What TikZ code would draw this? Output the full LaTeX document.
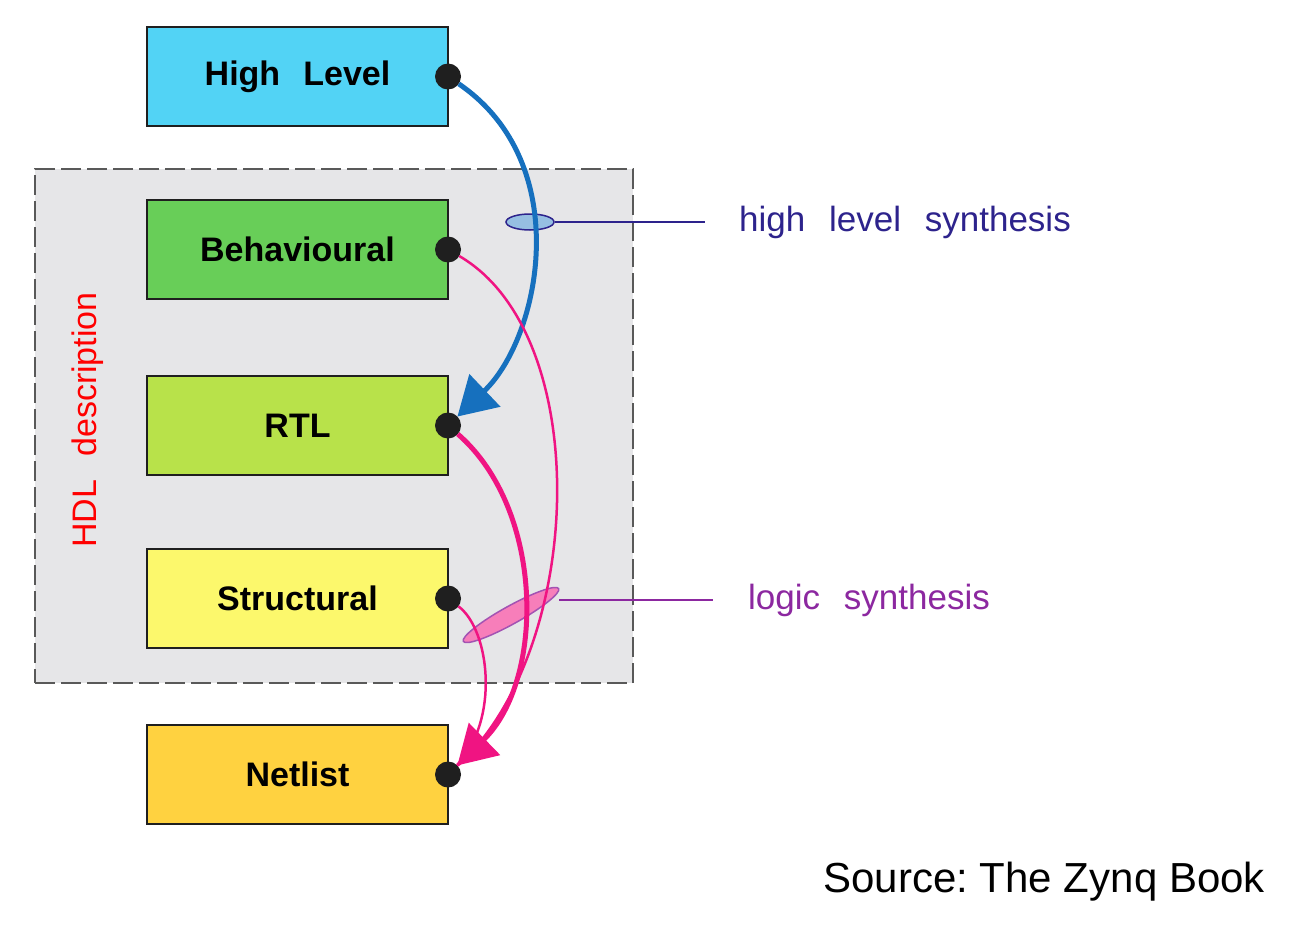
\documentclass[tikz,border=0pt]{standalone}
\usepackage{fontspec}
\setmainfont{Liberation Sans}
\usepackage{xcolor}
\usepackage{tikz}
\usetikzlibrary{arrows.meta,positioning,shapes.geometric}
\definecolor{hlcyan}{RGB}{82,211,245}
\definecolor{behgreen}{RGB}{104,206,88}
\definecolor{rtlgreen}{RGB}{184,226,74}
\definecolor{structyellow}{RGB}{252,248,108}
\definecolor{netorange}{RGB}{255,210,64}
\definecolor{hdlgray}{RGB}{230,230,232}
\definecolor{synblue}{RGB}{22,112,190}
\definecolor{synpink}{RGB}{240,20,130}
\definecolor{hlsnavy}{RGB}{45,35,140}
\definecolor{lsplum}{RGB}{140,40,160}
\def\lvl#1{\textbf{#1}}
\def\gap{\hskip.68em}
\frenchspacing

\begin{document}
\begin{tikzpicture}[x=1pt,y=-1pt]
    \tikzstyle{level box}=[draw=black!88,line width=2.5pt,outer sep=0pt,inner sep=0pt,
      minimum width=301pt,minimum height=99pt,font=\fontsize{34}{40}\selectfont]
    \tikzstyle{port}=[circle,fill=black!88,minimum size=26pt,inner sep=0pt,outer sep=0pt]
    \tikzstyle{tag}=[font=\fontsize{35}{42}\selectfont,inner sep=0pt]
    \tikzstyle{big tip}=[-{Triangle[length=38pt,width=44pt]}]
    \useasboundingbox (0,0) rectangle (1303,931);
    % dashed HDL area
    \node[draw=black!65,line width=1.5pt,dash pattern=on 20pt off 6pt,fill=hdlgray,
      minimum width=598pt,minimum height=514pt,inner sep=0pt] (hdl) at (334,426) {};
    \node[tag,font=\fontsize{34}{40}\selectfont,text=red,rotate=90] (hdlLabel) at (88,420) {HDL\gap description};
    % abstraction levels
    \node[level box,fill=hlcyan] (high) at (297.5,76.5) {\lvl{High\gap Level}};
    \node[level box,fill=behgreen,below=74pt of high] (behav) {\lvl{Behavioural}};
    \node[level box,fill=rtlgreen,below=77pt of behav] (rtl) {\lvl{RTL}};
    \node[level box,fill=structyellow,below=74pt of rtl] (struct) {\lvl{Structural}};
    \node[level box,fill=netorange,below=77pt of struct] (net) {\lvl{Netlist}};
    \node[port] (highP) at (high.east) {};
    \node[port] (behavP) at (behav.east) {};
    \node[port] (rtlP) at (rtl.east) {};
    \node[port] (structP) at (struct.east) {};
    \node[port] (netP) at (net.east) {};
    % markers
    \node[ellipse,draw=hlsnavy,line width=1.5pt,fill=synblue!45,minimum width=48pt,
      minimum height=16pt,inner sep=0pt] (hlsMark) at (530,222) {};
    \node[ellipse,draw=lsplum!80,line width=1.5pt,fill=synpink!55,minimum width=109pt,
      minimum height=18pt,inner sep=0pt,rotate=29] (lsMark) at (511,615) {};
    \coordinate (hlsEnd) at (705,222);
    \coordinate (lsEnd) at (713,600);
    \draw[hlsnavy,line width=1.2pt] (hlsMark.east) -- (hlsEnd);
    \draw[lsplum,line width=1.2pt] (lsMark.east |- lsEnd) -- (lsEnd);
    \node[tag,text=hlsnavy,anchor=west] (hlsText) at (739,222) {high\gap level\gap synthesis};
    \node[tag,text=lsplum,anchor=west] (lsText) at (748,600) {logic\gap synthesis};
    % synthesis steps
    \draw[synblue,line width=5pt,big tip] (highP) .. controls (576,164) and (540,338) .. (rtlP);
    \draw[synpink,line width=2.5pt] (behavP) .. controls (595,335) and (585,650) .. (netP);
    \draw[synpink,line width=2.5pt] (structP) .. controls (490,630) and (500,720) .. (netP);
    \draw[synpink,line width=5pt,big tip] (rtlP) .. controls (545,510) and (545,680) .. (netP);
    \node[font=\fontsize{42}{50}\selectfont,anchor=east,inner sep=0pt] (source) at (1265,882) {Source: The Zynq Book};
  \end{tikzpicture}
\end{document}
